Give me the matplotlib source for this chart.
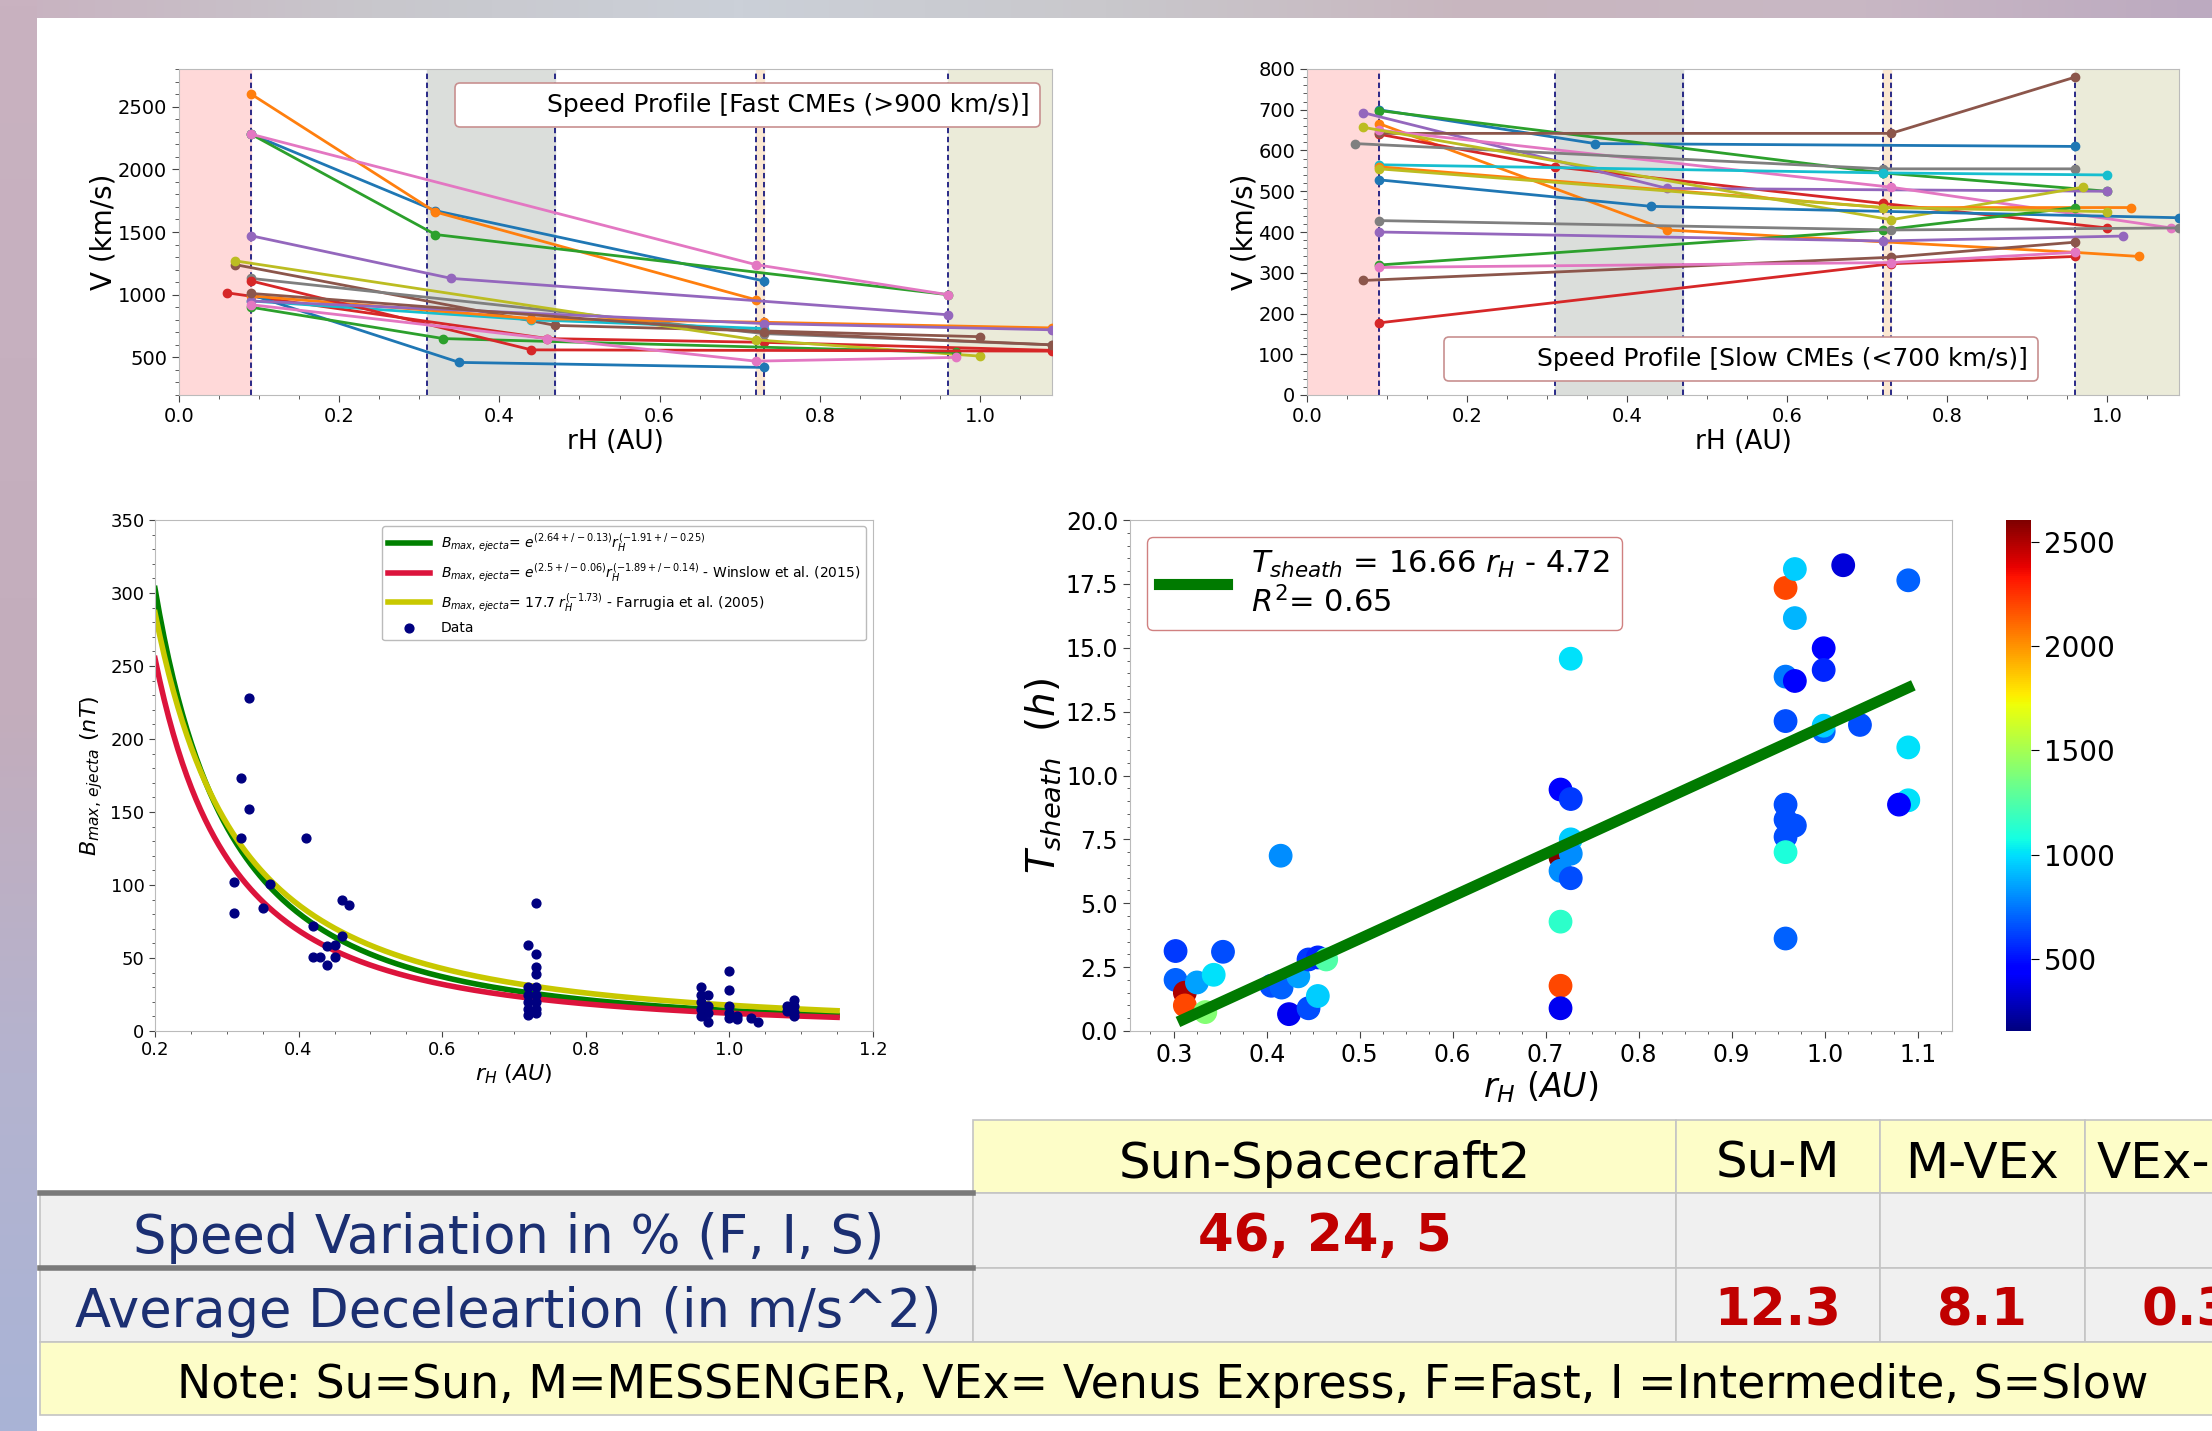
import numpy as np
import matplotlib
matplotlib.use("Agg")
import matplotlib.pyplot as plt
from matplotlib.lines import Line2D
from matplotlib.patches import Rectangle
from matplotlib.colors import LinearSegmentedColormap, Normalize
from matplotlib.ticker import AutoMinorLocator

plt.rcParams['font.family'] = ['DejaVu Sans']
NARROW = ['Liberation Sans Narrow', 'DejaVu Sans']

# ---------------- data ----------------
# speed profiles, fast CMEs: (rH list, V list)
fast_r = [
    [0.09, 0.32, 0.73], [0.09, 0.32, 0.72], [0.09, 0.32, 0.96],
    [0.06, 0.46, 0.73, 1.09], [0.09, 0.34, 0.96], [0.07, 0.47, 1.00],
    [0.09, 0.72, 0.96], [0.09, 0.73, 1.09], [0.07, 0.72, 1.00],
    [0.09, 0.44, 0.73], [0.09, 0.35, 0.73], [0.09, 0.44, 0.73, 1.09],
    [0.09, 0.33, 0.97], [0.09, 0.44, 1.09], [0.09, 0.73, 1.09],
    [0.09, 0.73, 1.09], [0.09, 0.46, 0.72, 0.97],
]
fast_v = [
    [2280, 1670, 1110], [2600, 1660, 960], [2280, 1480, 1000],
    [1015, 650, 620, 556], [1470, 1130, 840], [1240, 755, 665],
    [2280, 1240, 1000], [1130, 690, 600], [1270, 640, 510],
    [950, 800, 730], [1000, 460, 420], [990, 810, 780, 735],
    [900, 650, 540], [1110, 560, 550], [950, 770, 720],
    [1010, 700, 600], [920, 650, 470, 500],
]

# speed profiles, slow CMEs
slow_r = [
    [0.09, 0.36, 0.96], [0.09, 0.45, 0.96, 1.04], [0.09, 0.72, 1.00],
    [0.09, 0.31, 0.72, 1.00], [0.07, 0.45, 1.00], [0.09, 0.73, 0.96],
    [0.09, 0.73, 1.08], [0.06, 0.72, 0.96], [0.07, 0.73, 0.97],
    [0.09, 0.72, 1.00], [0.09, 0.43, 1.09], [0.09, 0.72, 1.03],
    [0.09, 0.72, 0.96], [0.09, 0.73, 0.96], [0.09, 0.72, 1.02],
    [0.07, 0.73, 0.96], [0.09, 0.73, 0.96], [0.09, 0.73, 1.09],
    [0.09, 0.72, 1.00],
]
slow_v = [
    [700, 617, 610], [666, 405, 350, 340], [698, 545, 500],
    [640, 560, 470, 410], [693, 507, 500], [642, 642, 780],
    [650, 510, 410], [617, 555, 555], [657, 430, 510],
    [565, 545, 540], [528, 463, 435], [560, 460, 460],
    [319, 405, 460], [177, 322, 340], [400, 378, 390],
    [281, 338, 375], [313, 325, 350], [428, 405, 410],
    [555, 460, 450],
]

# spacecraft positions (dashed lines)
sc_pos = [0.09, 0.31, 0.47, 0.72, 0.73, 0.96]

# B max ejecta data
b_r = [0.331, 0.32, 0.331, 0.32, 0.31, 0.31, 0.35, 0.36, 0.41, 0.46, 0.47,
       0.42, 0.42, 0.43, 0.44, 0.45, 0.45, 0.46, 0.44,
       0.72, 0.73, 0.73, 0.73, 0.73, 0.72, 0.72, 0.72, 0.72, 0.72,
       0.73, 0.73, 0.73, 0.73, 0.73,
       0.96, 0.96, 0.96, 0.96, 0.96, 0.97, 0.97, 0.97, 0.97,
       1.00, 1.00, 1.00, 1.00, 1.00, 1.01, 1.01, 1.03, 1.04,
       1.08, 1.08, 1.09, 1.09, 1.09, 1.09]
b_max = [228, 173, 152, 132, 102, 81, 84, 101, 132, 90, 86,
         72, 51, 51, 45, 59, 51, 65, 58,
         59, 88, 53, 44, 39, 30, 25, 20, 15, 11,
         30, 25, 20, 15, 12,
         30, 25, 20, 15, 10, 25, 17, 12, 6,
         41, 28, 17, 12, 9, 10, 8, 9, 6,
         17, 14, 21, 17, 13, 10]

# sheath duration vs rH, coloured by speed
sh_r = [0.302, 0.302, 0.312, 0.312, 0.325, 0.334, 0.343, 0.353, 0.405, 0.416,
        0.415, 0.424, 0.434, 0.445, 0.445, 0.455, 0.455, 0.464,
        0.716, 0.727, 0.716, 0.727, 0.727, 0.716, 0.727, 0.716, 0.716, 0.716, 0.727,
        0.958, 0.968, 1.02, 1.09, 0.968, 0.999, 0.999, 0.958, 0.968, 0.958,
        0.999, 0.999, 1.038, 1.09, 1.09, 1.08, 0.958, 0.958, 0.968, 0.958, 0.958, 0.958]
sh_t = [3.13, 2.0, 1.5, 1.0, 1.9, 0.74, 2.2, 3.1, 1.77, 1.7,
        6.86, 0.66, 2.14, 0.89, 2.8, 2.88, 1.37, 2.8,
        9.45, 9.08, 6.79, 7.5, 6.94, 6.27, 5.98, 4.28, 1.77, 0.89, 14.57,
        17.34, 18.08, 18.23, 17.64, 16.16, 14.98, 14.13, 13.87, 13.7, 12.13,
        11.73, 11.95, 11.98, 11.1, 9.03, 8.86, 8.86, 8.27, 8.04, 7.6, 7.0, 3.62]
sh_v = [600, 700, 2500, 2200, 850, 1400, 1000, 650, 650, 700,
        800, 400, 850, 650, 600, 550, 950, 1250,
        450, 600, 2600, 950, 800, 800, 650, 1150, 2200, 400, 1000,
        2200, 950, 350, 700, 900, 450, 550, 750, 450, 650,
        700, 950, 650, 1000, 1000, 450, 650, 650, 650, 650, 1100, 700]

# table
tab_header = ['Sun-Spacecraft2', 'Su-M', 'M-VEx', 'VEx-Sp2']
tab_rows = ['Speed Variation in % (F, I, S)', 'Average Deceleartion (in m/s^2)']
tab_speed_var = '46, 24, 5'
tab_decel = ['12.3', '8.1', '0.3']
tab_note = 'Note: Su=Sun, M=MESSENGER, VEx= Venus Express, F=Fast, I =Intermedite, S=Slow'

W, H = 2212, 1431
fig = plt.figure(figsize=(W / 100, H / 100), dpi=100)

# ---------------- background strips + table ----------------
bg = fig.add_axes([0, 0, 1, 1], zorder=-5)
bg.set_xlim(0, W)
bg.set_ylim(H, 0)
bg.axis('off')
top_cm = LinearSegmentedColormap.from_list('top', ['#c9b2c0', '#c8c7cc', '#cbd0d8', '#c9c8cc', '#c8b6bf', '#c9b8c4', '#bcaac0'])
left_cm = LinearSegmentedColormap.from_list('left', ['#c9b2c0', '#c6b0bf', '#c3adbc', '#b4b3cf', '#a9b3d6'])
bg.imshow(np.linspace(0, 1, 256)[None, :], cmap=top_cm, extent=(0, W, 18, 0), aspect='auto')
bg.imshow(np.linspace(0, 1, 256)[:, None], cmap=left_cm, extent=(0, 37, H, 0), aspect='auto')

# table geometry
x_lab0, x_lab1 = 40, 973
col_x = [973, 1676, 1880, 2085, 2290]
y_hdr, y_r1, y_r2, y_note, y_end = 1120, 1193, 1268, 1342, 1415
yellow = '#fdfdc8'
grey = '#f0f0f0'
thin = '#c4c4c4'
navy = '#1b2f72'
dred = '#c00000'
dy = 7

for i in range(4):
    bg.add_patch(Rectangle((col_x[i], y_hdr), col_x[i + 1] - col_x[i], y_r1 - y_hdr,
                           facecolor=yellow, edgecolor=thin, lw=1.2))
    bg.text(col_x[i] + 12 if i == 3 else (col_x[i] + col_x[i + 1]) / 2, (y_hdr + y_r1) / 2 + dy,
            tab_header[i], ha='left' if i == 3 else 'center', va='center',
            fontsize=36, color='black')
for ya, yb in [(y_r1, y_r2), (y_r2, y_note)]:
    bg.add_patch(Rectangle((x_lab0, ya), x_lab1 - x_lab0, yb - ya, facecolor=grey, edgecolor=thin, lw=1.2))
    for i in range(4):
        bg.add_patch(Rectangle((col_x[i], ya), col_x[i + 1] - col_x[i], yb - ya,
                               facecolor=grey, edgecolor=thin, lw=1.2))
bg.add_patch(Rectangle((x_lab0, y_note), 2300 - x_lab0, y_end - y_note, facecolor=yellow, edgecolor=thin, lw=1.2))
bg.plot([x_lab0, x_lab1], [y_r1, y_r1], color='#7a7a7a', lw=4)
bg.plot([x_lab0, x_lab1], [y_r2, y_r2], color='#7a7a7a', lw=4)

bg.text((x_lab0 + x_lab1) / 2 + 2, (y_r1 + y_r2) / 2 + dy, tab_rows[0], ha='center', va='center',
        fontsize=38, color=navy)
bg.text((x_lab0 + x_lab1) / 2 + 2, (y_r2 + y_note) / 2 + dy, tab_rows[1], ha='center', va='center',
        fontsize=38, color=navy)
bg.text((col_x[0] + col_x[1]) / 2, (y_r1 + y_r2) / 2 + dy, tab_speed_var, ha='center', va='center',
        fontsize=37, color=dred, fontweight='bold')
for i, val in enumerate(tab_decel):
    bg.text((col_x[i + 1] + col_x[i + 2]) / 2, (y_r2 + y_note) / 2 + dy, val, ha='center', va='center',
            fontsize=37, color=dred, fontweight='bold')
bg.text(1163, (y_note + y_end) / 2 + dy, tab_note, ha='center', va='center', fontsize=33, color='black')


# ---------------- speed profile panels ----------------
def speed_panel(rect, rs, vs, ylim, yticks, label, legend_loc, anchor):
    ax = fig.add_axes(rect)
    ax.axvspan(0, 0.09, color='#ffd9d9', zorder=0)
    ax.axvspan(0.31, 0.47, color='#dbdedb', zorder=0)
    ax.axvspan(0.72, 0.73, color='#fbe8d2', zorder=0)
    ax.axvspan(0.96, 1.2, color='#ebebd9', zorder=0)
    for p in sc_pos:
        ax.axvline(p, color='#1a1a80', ls='--', lw=1.3, dashes=(3, 2), zorder=1)
    colors = plt.rcParams['axes.prop_cycle'].by_key()['color']
    for k, (r, v) in enumerate(zip(rs, vs)):
        ax.plot(r, v, '-o', color=colors[k % 10], lw=2, ms=6, zorder=3)
    ax.set_xlim(0, 1.09)
    ax.set_ylim(*ylim)
    ax.set_yticks(yticks)
    ax.set_xticks([0.0, 0.2, 0.4, 0.6, 0.8, 1.0])
    ax.xaxis.set_minor_locator(AutoMinorLocator(4))
    ax.yaxis.set_minor_locator(AutoMinorLocator(5))
    ax.tick_params(labelsize=14, length=5, color='#444444')
    ax.tick_params(which='minor', length=3, color='#444444')
    for t in ax.get_xticklabels() + ax.get_yticklabels():
        t.set_family(NARROW)
    for s in ax.spines.values():
        s.set_color('#bbbbbb')
    ax.set_xlabel('rH (AU)', fontsize=19, family=NARROW, labelpad=2)
    ax.set_ylabel('V (km/s)', fontsize=20, labelpad=0)
    leg = ax.legend(handles=[Line2D([], [], color='none')], labels=[label], loc=legend_loc,
                    bbox_to_anchor=anchor, borderaxespad=0, fontsize=18, handlelength=2.5,
                    framealpha=1, edgecolor='#c89090', prop={'family': NARROW, 'size': 18})
    leg.get_frame().set_linewidth(1.2)
    return ax


speed_panel([179 / W, 1 - 395 / H, 873 / W, 326 / H], fast_r, fast_v, (200, 2800),
            [500, 1000, 1500, 2000, 2500], 'Speed Profile [Fast CMEs (>900 km/s)]',
            'upper right', (0.986, 0.957))
speed_panel([1307 / W, 1 - 395 / H, 872 / W, 326 / H], slow_r, slow_v, (0, 800),
            list(range(0, 801, 100)), 'Speed Profile [Slow CMEs (<700 km/s)]',
            'lower right', (0.838, 0.043))

# ---------------- B max ejecta panel ----------------
ax3 = fig.add_axes([155 / W, 1 - 1031 / H, 718 / W, 511 / H])
rr = np.linspace(0.2, 1.15, 300)
ax3.plot(rr, np.exp(2.64) * rr ** -1.91, color='green', lw=4,
         label=r'$B_{max,\, ejecta}$= $e^{(2.64+/-0.13)}r_H^{(-1.91+/-0.25)}$')
ax3.plot(rr, np.exp(2.5) * rr ** -1.89, color='crimson', lw=4,
         label=r'$B_{max,\, ejecta}$= $e^{(2.5+/-0.06)}r_H^{(-1.89+/-0.14)}$ - Winslow et al. (2015)')
ax3.plot(rr, 17.7 * rr ** -1.73, color='#c8c800', lw=4,
         label=r'$B_{max,\, ejecta}$= 17.7 $r_H^{(-1.73)}$ - Farrugia et al. (2005)')
ax3.scatter(b_r, b_max, s=40, color='navy', zorder=3, label='Data')
ax3.set_xlim(0.2, 1.2)
ax3.set_ylim(0, 350)
ax3.set_xticks([0.2, 0.4, 0.6, 0.8, 1.0, 1.2])
ax3.set_yticks(range(0, 351, 50))
ax3.xaxis.set_minor_locator(AutoMinorLocator(4))
ax3.yaxis.set_minor_locator(AutoMinorLocator(5))
ax3.tick_params(labelsize=13, length=4, color='#444444')
ax3.tick_params(which='minor', length=2, color='#444444')
for t in ax3.get_xticklabels() + ax3.get_yticklabels():
    t.set_family(NARROW)
for s in ax3.spines.values():
    s.set_color('#bbbbbb')
ax3.set_xlabel(r'$r_H\ (AU)$', fontsize=16, labelpad=2)
ax3.set_ylabel(r'$B_{max,\, ejecta}\ (nT)$', fontsize=16, labelpad=4)
leg3 = ax3.legend(loc='upper right', bbox_to_anchor=(0.99, 0.988), borderaxespad=0,
                  fontsize=10, framealpha=1, edgecolor='#bbbbbb', handlelength=3)

# ---------------- sheath duration panel ----------------
ax4 = fig.add_axes([1130 / W, 1 - 1031 / H, 822 / W, 511 / H])
norm = Normalize(vmin=156, vmax=2603)
sc = ax4.scatter(sh_r, sh_t, c=sh_v, cmap='jet', norm=norm, s=260, zorder=3)
fit_r = np.array([0.31, 1.09])
ax4.plot(fit_r, 16.66 * fit_r - 4.72, color='#007a00', lw=8, zorder=4,
         label='$T_{sheath}$ = 16.66 $r_H$ - 4.72\n$R^2$= 0.65')
ax4.set_xlim(0.253, 1.137)
ax4.set_ylim(0, 20)
ax4.set_xticks(np.round(np.arange(0.3, 1.11, 0.1), 1))
ax4.set_yticks(np.arange(0, 20.1, 2.5))
ax4.yaxis.set_major_formatter(matplotlib.ticker.FormatStrFormatter('%.1f'))
ax4.xaxis.set_minor_locator(AutoMinorLocator(4))
ax4.yaxis.set_minor_locator(AutoMinorLocator(5))
ax4.tick_params(labelsize=17, length=5, color='#444444')
ax4.tick_params(which='minor', length=2, color='#444444')
for s in ax4.spines.values():
    s.set_color('#bbbbbb')
ax4.set_xlabel(r'$r_H\ (AU)$', fontsize=24, labelpad=2)
ax4.set_ylabel(r'$T_{sheath}\ \ (h)$', fontsize=28, labelpad=2)
leg4 = ax4.legend(loc='upper left', bbox_to_anchor=(0.021, 0.967), borderaxespad=0,
                  fontsize=22, framealpha=1, edgecolor='#d08080', handlelength=2.2)

cax = fig.add_axes([2006 / W, 1 - 1031 / H, 25 / W, 511 / H])
cb = fig.colorbar(sc, cax=cax, ticks=[500, 1000, 1500, 2000, 2500])
cb.ax.tick_params(labelsize=20, length=6)
cb.outline.set_visible(False)

fig.savefig('out.png', dpi=100)
